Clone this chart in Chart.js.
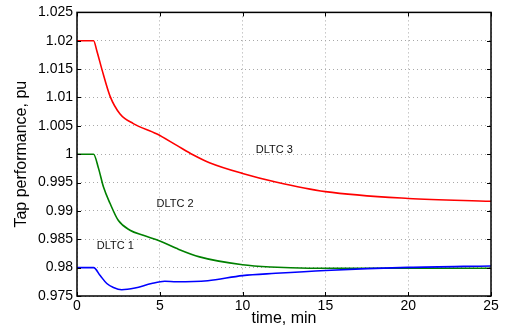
<!DOCTYPE html>
<html>
<head>
<meta charset="utf-8">
<script src="https://cdn.jsdelivr.net/npm/chart.js@4"></script>
<style>
    html, body { margin: 0; padding: 0; background: #fff; }
    #wrap { width: 510px; height: 328px; }
</style>
</head>
<body>
<div id="wrap"><canvas id="grafico" width="510" height="328"></canvas></div>
<script>
// dados
const tempo1 = [0, 1, 1.4, 1.8, 2.2, 2.7, 3.5, 4.5, 5.3, 6, 7.9, 10, 12, 15, 20, 25];
const dltc1 = [0.98, 0.98, 0.9786, 0.9772, 0.9765, 0.9761, 0.9764, 0.9772, 0.9776, 0.9775, 0.9777, 0.9786, 0.9790, 0.9795, 0.98005, 0.9803];

const tempo2 = [0, 1, 1.3, 1.6, 2, 2.5, 3.2, 4, 5, 6, 7.4, 10, 11.7, 14, 20, 25];
const dltc2 = [1.0, 1.0, 0.9975, 0.9942, 0.9913, 0.9883, 0.9866, 0.9857, 0.9847, 0.9834, 0.9819, 0.9805, 0.9801, 0.9799, 0.9799, 0.9799];

const tempo3 = [0, 1, 1.2, 1.5, 2, 2.6, 3.4, 4.8, 6, 7, 8, 10, 12, 15, 20, 25];
const dltc3 = [1.02, 1.02, 1.0182, 1.0150, 1.0102, 1.0071, 1.0054, 1.0036, 1.0016, 0.9999, 0.9985, 0.9966, 0.9951, 0.9934, 0.9922, 0.9917];

const ticksX = [0, 5, 10, 15, 20, 25];
const ticksY = [0.975, 0.98, 0.985, 0.99, 0.995, 1, 1.005, 1.01, 1.015, 1.02, 1.025];

const rotulos = [
    { texto: 'DLTC 1', x: 1.2, y: 0.9839 },
    { texto: 'DLTC 2', x: 4.8, y: 0.9912 },
    { texto: 'DLTC 3', x: 10.8, y: 1.0007 }
];

const fonte = 'Liberation Sans, Arial, Helvetica, sans-serif';

function pontos(xs, ys) {
    return xs.map((x, i) => ({ x, y: ys[i] }));
}

function serie(label, xs, ys, cor) {
    return {
        label,
        data: pontos(xs, ys),
        borderColor: cor,
        borderWidth: 1.6,
        pointRadius: 0,
        fill: false,
        cubicInterpolationMode: 'monotone'
    };
}

// moldura preta com marcas internas (estilo matlab)
const moldura = {
    id: 'moldura',
    afterDatasetsDraw(chart) {
        const { ctx, chartArea: a, scales } = chart;
        ctx.save();
        ctx.strokeStyle = '#000';
        ctx.lineWidth = 1.5;
        ctx.strokeRect(a.left, a.top, a.right - a.left, a.bottom - a.top);
        ctx.lineWidth = 1;
        ctx.beginPath();
        ticksX.forEach(v => {
            const px = Math.round(scales.x.getPixelForValue(v)) + 0.5;
            ctx.moveTo(px, a.bottom); ctx.lineTo(px, a.bottom - 4);
            ctx.moveTo(px, a.top); ctx.lineTo(px, a.top + 4);
        });
        ticksY.forEach(v => {
            const py = Math.round(scales.y.getPixelForValue(v)) + 0.5;
            ctx.moveTo(a.left, py); ctx.lineTo(a.left + 4, py);
            ctx.moveTo(a.right, py); ctx.lineTo(a.right - 4, py);
        });
        ctx.stroke();

        ctx.fillStyle = '#111';
        ctx.font = '11px ' + fonte;
        ctx.textBaseline = 'middle';
        ctx.textAlign = 'left';
        rotulos.forEach(r => {
            ctx.fillText(r.texto, scales.x.getPixelForValue(r.x), scales.y.getPixelForValue(r.y));
        });
        ctx.restore();
    }
};

new Chart(document.getElementById('grafico'), {
    type: 'line',
    data: {
        datasets: [
            serie('DLTC 1', tempo1, dltc1, '#0000ff'),
            serie('DLTC 2', tempo2, dltc2, '#008000'),
            serie('DLTC 3', tempo3, dltc3, '#ff0000')
        ]
    },
    options: {
        responsive: false,
        animation: false,
        layout: { padding: { left: 12, right: 19, top: 12, bottom: 0 } },
        plugins: { legend: { display: false }, tooltip: { enabled: false } },
        scales: {
            x: {
                type: 'linear',
                min: 0,
                max: 25,
                afterBuildTicks: s => { s.ticks = ticksX.map(v => ({ value: v })); },
                afterFit: s => { s.height = 32; },
                grid: { color: '#a8a8a8', drawTicks: false },
                border: { display: false, dash: [1, 3] },
                ticks: { color: '#000', font: { family: fonte, size: 14 }, padding: 2, maxRotation: 0 },
                title: { display: true, text: 'time, min', color: '#000', font: { family: fonte, size: 16 }, padding: { top: 0, bottom: 0 } }
            },
            y: {
                min: 0.975,
                max: 1.025,
                afterBuildTicks: s => { s.ticks = ticksY.map(v => ({ value: v })); },
                afterFit: s => { s.width = 65; },
                grid: { color: '#a8a8a8', drawTicks: false },
                border: { display: false, dash: [1, 3] },
                ticks: {
                    color: '#000',
                    font: { family: fonte, size: 14 },
                    padding: 4,
                    callback: v => String(Number(v.toFixed(3)))
                },
                title: { display: true, text: 'Tap performance, pu', color: '#000', font: { family: fonte, size: 16 }, padding: { top: 0, bottom: 0 } }
            }
        }
    },
    plugins: [moldura]
});
</script>
</body>
</html>
